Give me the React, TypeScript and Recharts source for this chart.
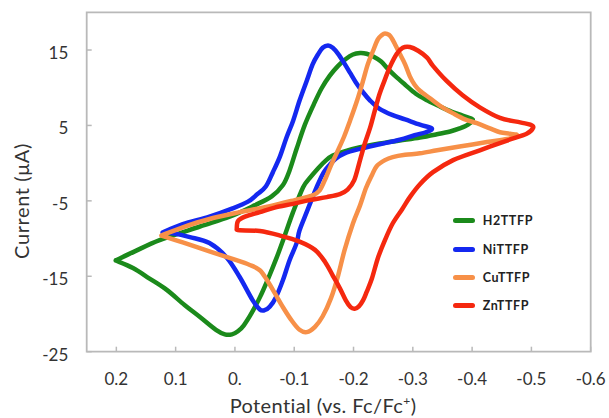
import React from 'react';
import { LineChart, Line, XAxis, YAxis, ReferenceArea, Legend } from 'recharts';

const FONT = "Lato, 'Open Sans', 'Liberation Sans', sans-serif";
const FRAME = '#b9b9b9';
const TEXT = '#333333';

const seriesNames = ['H2TTFP', 'NiTTFP', 'CuTTFP', 'ZnTTFP'];
const seriesColors = ['#1b8a1b', '#1428f0', '#f79048', '#f5280f'];

const xTicks = [0.2, 0.1, 0, -0.1, -0.2, -0.3, -0.4, -0.5, -0.6];
const yTicks = [-25, -15, -5, 5, 15];

// H2TTFP (V vs Fc/Fc+, µA)
const h2Potential = [
  0.201, 0.169, 0.127, 0.059, 0.009, -0.033, -0.062, -0.081, -0.092, -0.104, -0.118, -0.133, -0.146, -0.16,
  -0.174, -0.187, -0.199, -0.211, -0.222, -0.234, -0.246, -0.258, -0.271, -0.287, -0.305, -0.325, -0.346,
  -0.366, -0.384, -0.401, -0.393, -0.379, -0.363, -0.339, -0.312, -0.278, -0.244, -0.211, -0.182, -0.165,
  -0.154, -0.14, -0.126, -0.115, -0.098, -0.084, -0.07, -0.055, -0.042, -0.028, -0.015, -0.005, 0.005, 0.017,
  0.032, 0.059, 0.085, 0.115, 0.144, 0.172, 0.201,
];
const h2Current = [
  -12.9, -11.7, -10.2, -8.4, -7.1, -5.6, -4.4, -2.9, -1.0, 1.9, 5.1, 7.8, 9.9, 11.6,
  12.9, 13.8, 14.4, 14.6, 14.5, 14.1, 13.5, 12.5, 11.5, 10.4, 9.2, 8.3, 7.5,
  6.8, 6.3, 5.8, 5.1, 4.6, 4.2, 3.8, 3.4, 3.0, 2.6, 2.1, 1.5, 1.0,
  0.4, -0.7, -2.0, -3.2, -6.5, -9.6, -12.6, -15.5, -17.8, -19.9, -21.5, -22.3, -22.7, -22.7,
  -22.1, -20.4, -18.8, -16.8, -15.3, -13.9, -12.9,
];

// NiTTFP
const niPotential = [
  0.122, 0.088, 0.043, 0.004, -0.022, -0.038, -0.052, -0.064, -0.076, -0.087, -0.098, -0.109, -0.121, -0.131,
  -0.14, -0.148, -0.157, -0.165, -0.174, -0.184, -0.194, -0.204, -0.216, -0.228, -0.244, -0.265, -0.287,
  -0.312, -0.332, -0.322, -0.303, -0.278, -0.244, -0.211, -0.185, -0.17, -0.16, -0.15, -0.14, -0.13,
  -0.121, -0.109, -0.104, -0.092, -0.081, -0.069, -0.059, -0.05, -0.042, -0.03, -0.008, 0.014, 0.043,
  0.076, 0.105, 0.122,
];
const niCurrent = [
  -9.2, -8.1, -7.1, -6.0, -5.1, -4.1, -3.1, -1.2, 0.9, 3.4, 5.6, 8.3, 10.9, 13.1,
  14.4, 15.3, 15.6, 15.3, 14.5, 13.3, 12.0, 10.7, 9.4, 8.3, 7.2, 6.4, 5.8,
  5.1, 4.6, 4.1, 3.7, 3.1, 2.5, 1.9, 1.3, 0.6, -0.2, -1.2, -2.8, -4.7,
  -6.5, -8.9, -10.6, -12.9, -15.5, -17.8, -19.0, -19.5, -19.4, -18.2, -15.1, -12.5, -10.6,
  -9.8, -9.3, -9.2,
];

// CuTTFP
const cuPotential = [
  0.124, 0.088, 0.043, -0.008, -0.059, -0.101, -0.13, -0.143, -0.153, -0.162, -0.172, -0.184, -0.194, -0.206,
  -0.216, -0.224, -0.233, -0.241, -0.248, -0.253, -0.26, -0.265, -0.271, -0.278, -0.287, -0.295, -0.303,
  -0.312, -0.329, -0.346, -0.368, -0.388, -0.408, -0.43, -0.447, -0.464, -0.476, -0.459, -0.425, -0.379,
  -0.341, -0.312, -0.287, -0.266, -0.253, -0.239, -0.231, -0.221, -0.211, -0.199, -0.185, -0.174, -0.162,
  -0.148, -0.135, -0.121, -0.109, -0.096, -0.081, -0.067, -0.054, -0.042, -0.025, 0.004, 0.043, 0.088, 0.124,
];
const cuCurrent = [
  -9.6, -8.5, -7.4, -6.5, -5.7, -4.9, -4.3, -3.6, -2.0, -0.3, 1.4, 3.5, 5.6, 8.3,
  10.9, 13.1, 14.9, 16.4, 17.0, 17.2, 17.0, 16.5, 15.6, 14.5, 13.1, 11.5, 10.4,
  9.6, 8.6, 7.6, 6.6, 5.8, 5.3, 4.6, 4.1, 3.9, 3.7, 3.2, 2.8, 2.2,
  1.7, 1.3, 1.1, 0.8, 0.4, -0.4, -1.6, -3.3, -5.6, -8.0, -11.5, -14.9, -17.9,
  -20.3, -21.7, -22.4, -22.1, -20.9, -19.1, -17.2, -15.5, -14.2, -13.5, -12.7, -11.7, -10.5, -9.6,
];

// ZnTTFP
const znPotential = [
  -0.003, -0.005, -0.017, -0.042, -0.067, -0.098, -0.126, -0.155, -0.177, -0.19, -0.201, -0.211, -0.219, -0.228,
  -0.236, -0.244, -0.253, -0.261, -0.273, -0.283, -0.295, -0.309, -0.324, -0.334, -0.357, -0.384, -0.413,
  -0.447, -0.481, -0.498, -0.503, -0.492, -0.459, -0.413, -0.368, -0.334, -0.312, -0.295, -0.282, -0.266,
  -0.253, -0.241, -0.231, -0.222, -0.216, -0.209, -0.202, -0.195, -0.187, -0.177, -0.165, -0.152, -0.135,
  -0.109, -0.076, -0.042, -0.008, -0.003,
];
const znCurrent = [
  -8.8, -7.7, -7.1, -6.5, -5.9, -5.4, -4.9, -4.5, -4.1, -3.5, -2.3, 0.4, 2.6, 4.7,
  7.0, 9.2, 11.1, 12.7, 14.5, 15.3, 15.4, 14.9, 14.0, 12.9, 10.9, 9.0, 7.4,
  6.0, 5.4, 5.1, 4.7, 3.9, 3.0, 1.7, 0.4, -1.2, -2.8, -4.5, -6.1, -8.0,
  -10.2, -12.6, -15.3, -17.1, -18.2, -19.0, -19.3, -19.1, -18.2, -16.6, -14.9, -13.1, -11.5,
  -10.4, -9.6, -9.0, -8.9, -8.8,
];

const toPoints = (p: number[], c: number[]) => p.map((x, i) => ({ potential: x, current: c[i] }));
const seriesData = [
  toPoints(h2Potential, h2Current),
  toPoints(niPotential, niCurrent),
  toPoints(cuPotential, cuCurrent),
  toPoints(znPotential, znCurrent),
];

// Catmull-Rom style smooth curve that follows points in their order (closed loops)
const smoothCurve = (context: any) => {
  let pts: number[][] = [];
  return {
    areaStart() {},
    areaEnd() {},
    lineStart() {
      pts = [];
    },
    point(x: number, y: number) {
      pts.push([+x, +y]);
    },
    lineEnd() {
      const n = pts.length;
      if (!n) return;
      context.moveTo(pts[0][0], pts[0][1]);
      for (let i = 0; i < n - 1; i++) {
        const p0 = pts[i - 1] || pts[i];
        const p1 = pts[i];
        const p2 = pts[i + 1];
        const p3 = pts[i + 2] || p2;
        const c1x = p1[0] + (p2[0] - p0[0]) / 6;
        const c1y = p1[1] + (p2[1] - p0[1]) / 6;
        const c2x = p2[0] - (p3[0] - p1[0]) / 6;
        const c2y = p2[1] - (p3[1] - p1[1]) / 6;
        context.bezierCurveTo(c1x, c1y, c2x, c2y, p2[0], p2[1]);
      }
    },
  };
};

const fmtX = (v: number) => (Math.abs(v) < 1e-9 ? '0.' : v.toFixed(1));

const XTick = (props: any) => {
  const { x, y, payload } = props;
  return (
    <g>
      <line x1={x} x2={x} y1={y} y2={y - 5} stroke={FRAME} strokeWidth={1.5} />
      <text x={x} y={y + 33.5} textAnchor="middle" fontSize={17} fill={TEXT} fontFamily={FONT}>
        {fmtX(payload.value)}
      </text>
    </g>
  );
};

const YTick = (props: any) => {
  const { x, y, payload } = props;
  return (
    <g>
      <line x1={x} x2={x + 5} y1={y} y2={y} stroke={FRAME} strokeWidth={1.5} />
      <text x={x - 18.4} y={y + 9} textAnchor="end" fontSize={17} fill={TEXT} fontFamily={FONT}>
        {String(payload.value)}
      </text>
    </g>
  );
};

const XTitle = () => (
  <text x={323} y={413} textAnchor="middle" fontSize={20} fill={TEXT} fontFamily={FONT} letterSpacing={0.4}>
    Potential (vs. Fc/Fc
    <tspan dy={-8} fontSize={12}>+</tspan>
    <tspan dy={8}>)</tspan>
  </text>
);

const YTitle = () => (
  <text
    x={29}
    y={201}
    transform="rotate(-90, 29, 201)"
    textAnchor="middle"
    fontSize={20}
    fill={TEXT}
    fontFamily={FONT}
    letterSpacing={0.6}
  >
    Current (μA)
  </text>
);

const LegendBox = () => (
  <div style={{ fontFamily: FONT }}>
    {seriesNames.map((n, i) => (
      <div key={n} style={{ display: 'flex', alignItems: 'center', height: 28.4 }}>
        <span
          style={{
            display: 'inline-block',
            width: 22,
            height: 5,
            borderRadius: 2.5,
            background: seriesColors[i],
          }}
        />
        <span style={{ marginLeft: 8, fontWeight: 700, fontSize: 12.5, color: '#222', letterSpacing: 0.6 }}>{n}</span>
      </div>
    ))}
  </div>
);

export default function App() {
  return (
    <div style={{ position: 'absolute', left: 0, top: 0, width: 609, height: 418, background: '#fff' }}>
      <LineChart width={609} height={418} margin={{ top: 12.3, right: 18.3, bottom: 0, left: 0 }}>
        <XAxis
          type="number"
          dataKey="potential"
          domain={[-0.6, 0.25]}
          reversed
          ticks={xTicks}
          allowDataOverflow
          height={66.3}
          tickSize={0}
          tickMargin={0}
          tickLine={false}
          axisLine={false}
          interval={0}
          tick={<XTick />}
          label={{ content: () => <XTitle /> }}
        />
        <YAxis
          type="number"
          dataKey="current"
          domain={[-25, 20]}
          ticks={yTicks}
          allowDataOverflow
          width={86.7}
          tickSize={0}
          tickMargin={0}
          tickLine={false}
          axisLine={false}
          interval={0}
          tick={<YTick />}
          label={{ content: () => <YTitle /> }}
        />
        <ReferenceArea
          x1={0.25}
          x2={-0.6}
          y1={-25}
          y2={20}
          fill="none"
          stroke={FRAME}
          strokeWidth={1.8}
          ifOverflow="visible"
        />
        {seriesData.map((d, i) => (
          <Line
            key={seriesNames[i]}
            name={seriesNames[i]}
            data={d}
            dataKey="current"
            type={smoothCurve as any}
            stroke={seriesColors[i]}
            strokeWidth={4.5}
            strokeLinejoin="round"
            strokeLinecap="round"
            dot={false}
            activeDot={false}
            isAnimationActive={false}
          />
        ))}
        <Legend
          layout="horizontal"
          verticalAlign="middle"
          align="center"
          wrapperStyle={{ left: 452.7, top: 206.5, width: 130 }}
          content={() => <LegendBox />}
        />
      </LineChart>
    </div>
  );
}
